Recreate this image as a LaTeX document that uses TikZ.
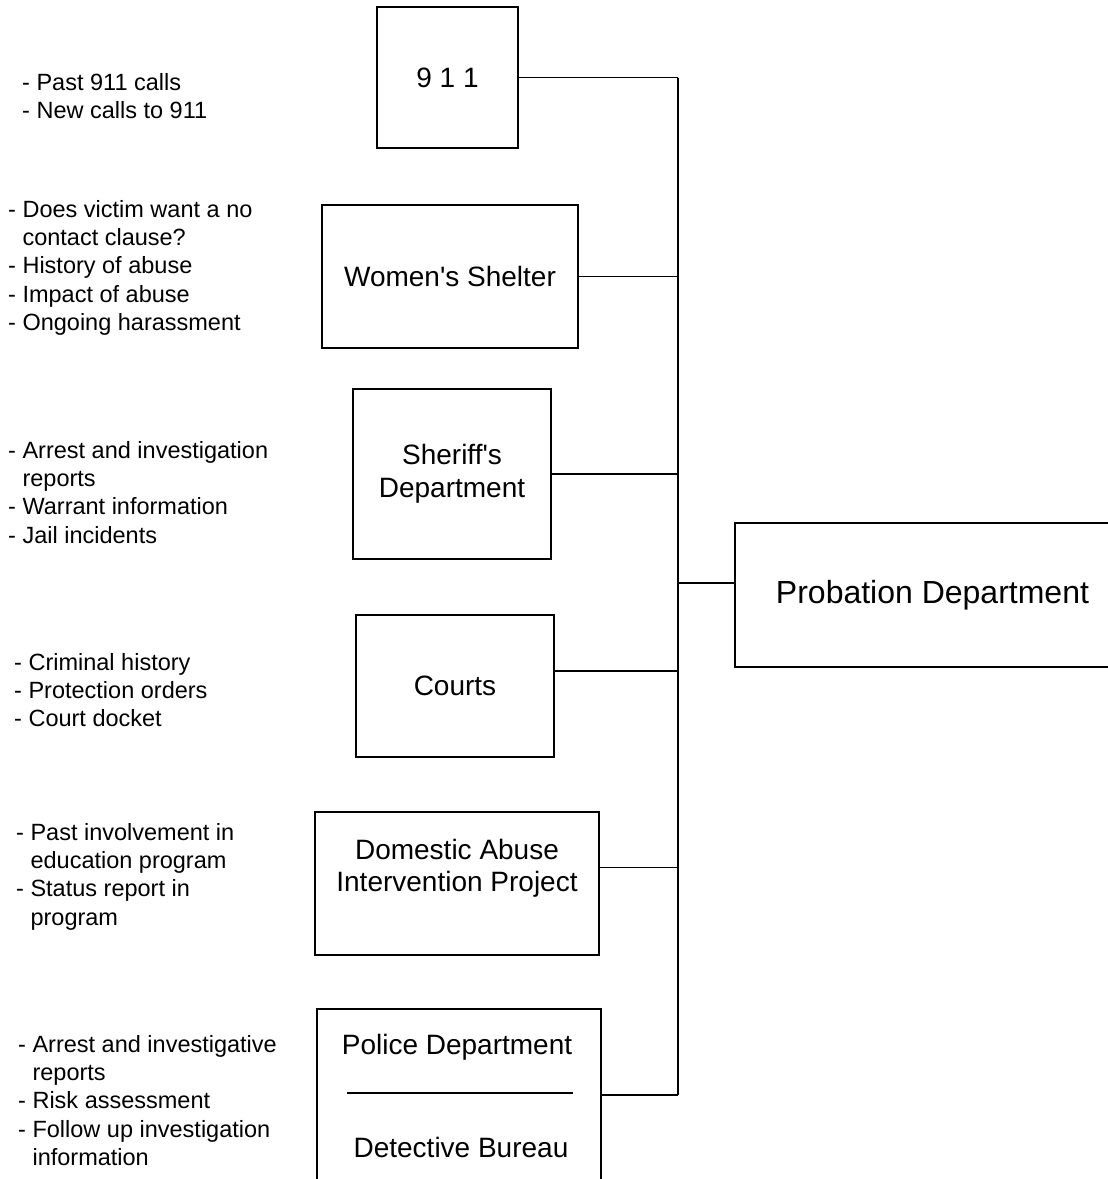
\documentclass[tikz,border=0pt]{standalone}
\usepackage{fontspec}
\setmainfont{Liberation Sans}
\usetikzlibrary{positioning,calc}

\begin{document}
\begin{tikzpicture}[
x=1pt,y=-1pt,
agency/.style={
draw,
rectangle,
line width=1.3pt,
inner sep=0pt,
align=center,
font=\fontsize{28}{32.5}\selectfont
},
boxtext/.style={
inner sep=0pt,
align=center,
font=\fontsize{28}{32.5}\selectfont
},
info/.style={
inner sep=0pt,
anchor=north west,
align=left,
font=\fontsize{23.5}{28.3}\selectfont
},
link/.style={
line width=1.3pt
}
]
\useasboundingbox (0,0) rectangle (1108,1179);

\node[agency,minimum width=141,minimum height=141] (n911) at (447.5,77.5) {9 1 1};
\node[agency,minimum width=256,minimum height=143] (shelter) at (450,276.5) {Women\textquotesingle s Shelter};
\node[agency,minimum width=198,minimum height=170] (sheriff) at (452,474) {Sheriff\textquotesingle s\\Department};
\node[agency,minimum width=198,minimum height=142] (courts) at (455,686) {Courts};
\node[agency,minimum width=284,minimum height=143] (daip) at (457,883.5) {};
\node[boxtext] (daiptext) at (457,868) {Domestic Abuse\\Intervention Project};
\node[agency,minimum width=284,minimum height=172] (police) at (459,1095) {};
\node[boxtext] (policetext) at (457,1047) {Police Department};
\node[boxtext] (detective) at (461,1147) {Detective Bureau};
\draw[line width=1.3pt] (347,1093) -- (573,1093);

\node[agency,minimum width=395,minimum height=144,
font=\fontsize{32}{36}\selectfont] (probation) at (932.5,595) {Probation Department};

\node[info] (l911) at (22,73) {- Past 911 calls\\- New calls to 911};
\node[info] (lshelter) at (8,200)
{- Does victim want a no\\\hphantom{- }contact clause?\\- History of abuse\\- Impact of abuse\\- Ongoing harassment};
\node[info] (lsheriff) at (8,441)
{- Arrest and investigation\\\hphantom{- }reports\\- Warrant information\\- Jail incidents};
\node[info] (lcourts) at (14,653)
{- Criminal history\\- Protection orders\\- Court docket};
\node[info] (ldaip) at (16,823)
{- Past involvement in\\\hphantom{- }education program\\- Status report in\\\hphantom{- }program};
\node[info] (lpolice) at (18,1035)
{- Arrest and investigative\\\hphantom{- }reports\\- Risk assessment\\- Follow up investigation\\\hphantom{- }information};

\coordinate (bus) at (678,0);

\draw[link]
(n911.east) -- (n911.east -| bus);

\draw[link]
(shelter.east) -- (shelter.east -| bus);

\draw[link]
(sheriff.east) -- (sheriff.east -| bus);

\draw[link]
([yshift=15pt]courts.east) -- ([yshift=15pt]courts.east -| bus);

\draw[link]
([yshift=16pt]daip.east) -- ([yshift=16pt]daip.east -| bus);

\draw[link]
(police.east) -- (police.east -| bus);

\draw[link]
(n911.east -| bus) -- (police.east -| bus);

\draw[link]
([yshift=12pt]probation.west) -- ([yshift=12pt]probation.west -| bus);

\end{tikzpicture}
\end{document}
